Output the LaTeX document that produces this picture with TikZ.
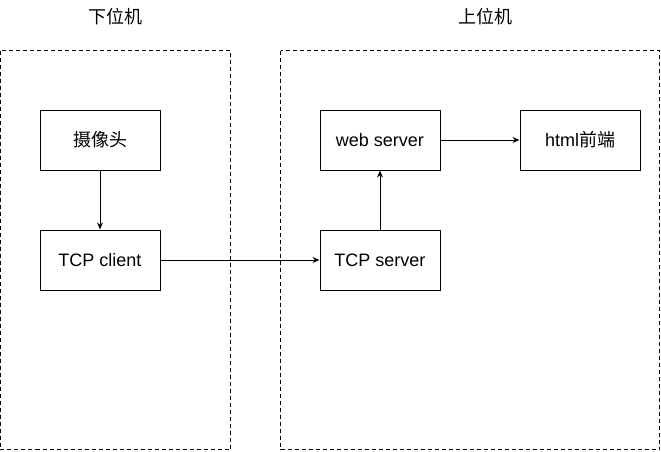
\documentclass[tikz,border=0pt]{standalone}
\usepackage{fontspec}
\setmainfont{Liberation Sans}
\newfontfamily\cjk{Noto Sans CJK SC}
\usetikzlibrary{arrows.meta}
\begin{document}
\begin{tikzpicture}[x=1pt,y=-1pt,
  lw/.style={line width=1pt},
  group/.style={draw,lw,dash pattern=on 4pt off 3pt},
  box/.style={draw,lw,minimum width=120pt,minimum height=60pt,inner sep=0pt,font=\fontsize{18}{20}\selectfont},
  title/.style={font=\cjk\fontsize{18}{20}\selectfont,inner sep=0pt},
  arr/.style={lw,-{Stealth[length=7pt,width=6pt]}}]
\useasboundingbox (0,0) rectangle (661,451);
\draw[group] (0.5,50.5) rectangle (230.5,449.5);
\draw[group] (280.5,50.5) rectangle (659.5,449.5);
\node[title] (t1) at (115,17) {下位机};
\node[title] (t2) at (485,17) {上位机};
\node[box] (cam) at (100,140) {\cjk 摄像头};
\node[box] (cli) at (100,260) {TCP client};
\node[box] (web) at (380,140) {web server};
\node[box] (html) at (580,140) {html{\cjk 前端}};
\node[box] (srv) at (380,260) {TCP server};
\draw[arr] (cam) -- (cli);
\draw[arr] (cli) -- (srv);
\draw[arr] (srv) -- (web);
\draw[arr] (web) -- (html);
\end{tikzpicture}
\end{document}
